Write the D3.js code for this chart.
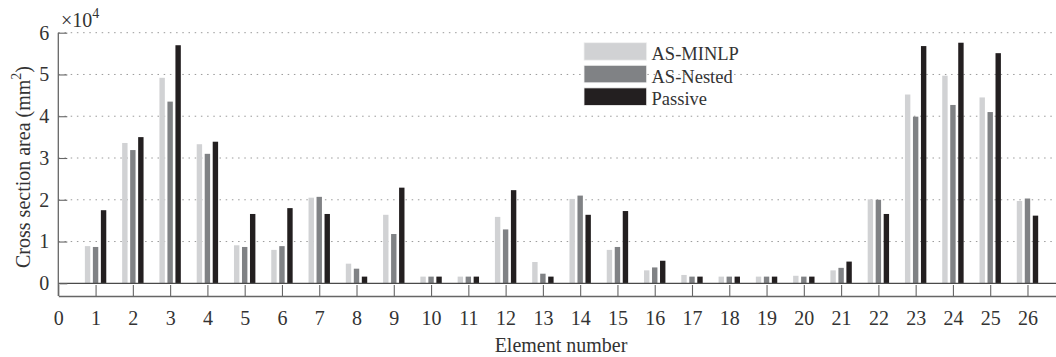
<!DOCTYPE html>
<html>
<head>
<meta charset="utf-8">
<script src="https://cdn.jsdelivr.net/npm/d3@7"></script>
<style>
  html, body { margin: 0; padding: 0; background: #fff; }
  svg { display: block; }
  text { font-family: "Liberation Serif", "Times New Roman", serif; fill: #333; }
</style>
</head>
<body>
<svg id="chart" width="1056" height="357"></svg>
<script>
// Element numbers and cross section areas (units of 10^4 mm^2)
const elements = d3.range(1, 27);
const seriesNames = ["AS-MINLP", "AS-Nested", "Passive"];
const asMinlp = [0.89, 3.36, 4.92, 3.33, 0.91, 0.80, 2.05, 0.47, 1.64, 0.16, 0.16, 1.59, 0.51,
                 2.02, 0.80, 0.31, 0.20, 0.16, 0.16, 0.18, 0.31, 2.01, 4.52, 4.97, 4.45, 1.97];
const asNested = [0.87, 3.19, 4.35, 3.10, 0.87, 0.89, 2.07, 0.35, 1.18, 0.16, 0.16, 1.29, 0.23,
                  2.10, 0.87, 0.38, 0.16, 0.16, 0.16, 0.16, 0.37, 2.00, 3.99, 4.27, 4.10, 2.03];
const passive = [1.75, 3.50, 5.70, 3.39, 1.66, 1.80, 1.66, 0.16, 2.29, 0.16, 0.16, 2.23, 0.16,
                 1.64, 1.73, 0.54, 0.16, 0.16, 0.16, 0.16, 0.52, 1.66, 5.68, 5.76, 5.51, 1.62];
const xTicks = d3.range(0, 27);
const yTicks = [0, 1, 2, 3, 4, 5, 6];
const colors = ["#d1d2d4", "#808285", "#231f20"];

const series = [asMinlp, asNested, passive];

const svg = d3.select("#chart");

const x = d3.scaleLinear().domain([0, 26.765]).range([58.3, 1056]);
const y = d3.scaleLinear().domain([0, 6]).range([283.3, 32.7]);
const xAxisY = 296;

const unit = x(1) - x(0);
const barOffset = 8 / unit;     // in element units
const barWidth = 5.4;

// Dotted gridlines
svg.append("g")
  .selectAll("line")
  .data(yTicks.filter(d => d > 0))
  .join("line")
  .attr("x1", x(0)).attr("x2", 1056)
  .attr("y1", d => y(d)).attr("y2", d => y(d))
  .attr("stroke", "#9a9a9a")
  .attr("stroke-width", 1)
  .attr("stroke-dasharray", "1.5,4.7");

// Bars
const barG = svg.append("g");
series.forEach((vals, s) => {
  barG.append("g")
    .attr("fill", colors[s])
    .selectAll("rect")
    .data(elements.map((e, i) => ({ e, v: vals[i] })))
    .join("rect")
    .attr("x", d => x(d.e + (s - 1) * barOffset) - barWidth / 2)
    .attr("width", barWidth)
    .attr("y", d => y(d.v))
    .attr("height", d => y(0) - y(d.v));
});

// Baseline at zero
svg.append("line")
  .attr("x1", x(0)).attr("x2", 1056)
  .attr("y1", y(0)).attr("y2", y(0))
  .attr("stroke", "#4a4a4a").attr("stroke-width", 1.3);

// Y axis
const yAxis = svg.append("g")
  .attr("transform", `translate(${x(0)},0)`)
  .call(d3.axisLeft(y).tickValues(yTicks).tickSize(-9).tickSizeOuter(0).tickPadding(9)
        .tickFormat(d3.format("d")));
yAxis.select(".domain").remove();
yAxis.selectAll(".tick line").attr("stroke", "#666").attr("stroke-width", 1.1);
yAxis.selectAll(".tick text")
  .attr("font-family", "Liberation Serif").attr("font-size", 20).attr("fill", "#333");

svg.append("line")
  .attr("x1", x(0)).attr("x2", x(0))
  .attr("y1", y(6)).attr("y2", xAxisY)
  .attr("stroke", "#666").attr("stroke-width", 1.3);

// X axis below the plot with ticks pointing up
const xAxis = svg.append("g")
  .attr("transform", `translate(0,${xAxisY})`)
  .call(d3.axisBottom(x).tickValues(xTicks).tickSize(-11).tickSizeOuter(0).tickPadding(15)
        .tickFormat(d3.format("d")));
xAxis.select(".domain").attr("stroke", "#666").attr("stroke-width", 1.3);
xAxis.selectAll(".tick line").attr("stroke", "#666").attr("stroke-width", 1.1);
xAxis.selectAll(".tick text")
  .attr("font-family", "Liberation Serif").attr("font-size", 20).attr("fill", "#333");

// Scale factor label
const sf = svg.append("text")
  .attr("x", 61).attr("y", 27)
  .attr("font-size", 20);
sf.append("tspan").text("×10");
sf.append("tspan").attr("font-size", 14).attr("dy", -9).text("4");

// Axis titles
svg.append("text")
  .attr("x", 561).attr("y", 351.5)
  .attr("text-anchor", "middle")
  .attr("font-size", 20)
  .text("Element number");

const yl = svg.append("text")
  .attr("transform", "translate(30,167) rotate(-90)")
  .attr("text-anchor", "middle")
  .attr("font-size", 20);
yl.append("tspan").text("Cross section area (mm");
yl.append("tspan").attr("font-size", 14).attr("dy", -9).text("2");
yl.append("tspan").attr("dy", 9).text(")");

// Legend
const legend = svg.append("g").attr("transform", "translate(584,42.7)");
seriesNames.forEach((name, i) => {
  const g = legend.append("g").attr("transform", `translate(0,${i * 22.6})`);
  g.append("rect")
    .attr("width", 62.7).attr("height", 17.5)
    .attr("fill", colors[i])
    .attr("stroke", "#f2f2f2").attr("stroke-width", 0.8);
  g.append("text")
    .attr("x", 67.5).attr("y", 17.3)
    .attr("font-size", 18.5)
    .text(name);
});
</script>
</body>
</html>
